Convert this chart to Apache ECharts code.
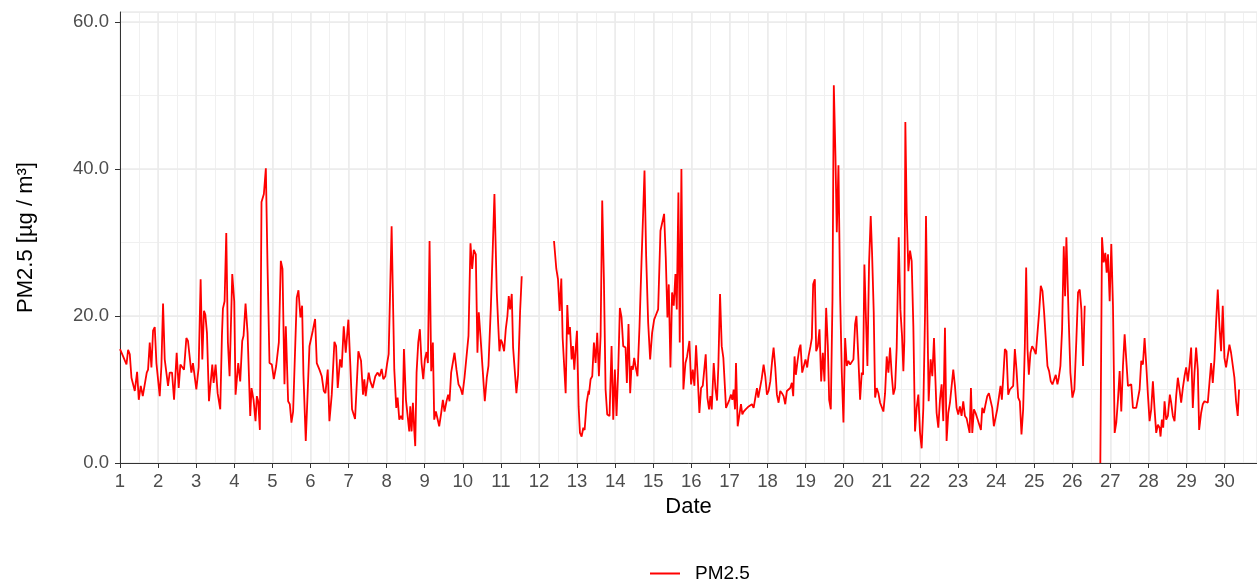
<!DOCTYPE html>
<html>
<head>
<meta charset="utf-8">
<script src="https://cdn.jsdelivr.net/npm/echarts@6/dist/echarts.min.js"></script>
<style>html,body{margin:0;padding:0;background:#fff}#c{width:1257px;height:580px}</style>
</head>
<body>
<div id="c"></div>
<script>
// time in days of month (fractional), null value = missing data
const times = [
1.000,1.082,1.170,1.213,1.257,1.301,1.344,1.388,1.449,1.493,1.545,1.598,1.650,1.702,1.737,1.781,1.825,1.868,1.912,1.956,
2.043,2.087,2.130,2.174,2.218,2.261,2.305,2.366,2.419,2.488,2.541,2.585,2.637,2.681,2.742,2.785,2.873,2.916,3.004,3.065,
3.117,3.161,3.205,3.240,3.283,3.336,
3.423,3.458,3.510,3.563,3.632,3.676,3.702,3.746,3.790,3.833,3.877,3.947,3.999,4.034,4.104,4.156,4.209,4.244,4.296,4.349,
4.419,4.453,4.506,4.558,4.593,4.628,4.672,4.715,4.777,4.829,4.873,4.925,4.986,5.039,5.100,5.170,5.222,5.266,5.318,5.353,
5.388,5.414,5.458,5.501,5.545,5.589,5.641,5.685,5.737,5.781,5.816,5.877,
5.974,6.061,6.122,6.166,6.236,6.297,6.350,6.393,6.454,6.498,6.559,6.629,6.673,6.716,6.777,6.821,6.874,6.926,6.996,7.048,
7.092,7.136,7.171,7.258,7.328,7.380,7.415,7.450,7.529,7.572,7.633,7.703,7.764,7.817,7.869,7.913,7.965,8.009,8.053,8.131,
8.201,8.253,8.288,
8.332,8.376,8.419,8.454,8.507,8.550,8.594,8.620,8.655,8.690,8.725,8.751,8.786,8.830,8.873,8.917,8.961,9.004,9.048,9.083,
9.127,9.170,9.214,9.249,9.293,9.336,9.380,9.432,9.476,9.520,9.572,9.616,9.651,9.694,9.782,9.834,9.887,9.939,9.991,10.044,
10.096,10.149,10.201,10.245,10.288,10.341,10.384,10.419,10.463,10.515,10.577,10.629,10.673,10.734,10.786,10.830,
10.892,10.927,10.962,10.997,11.032,11.084,11.128,11.171,11.206,11.241,11.285,11.320,11.363,11.407,11.451,11.503,11.547,
11.970,
12.394,12.455,12.499,12.543,12.586,12.621,12.700,12.743,12.778,12.813,12.857,12.892,12.927,12.962,12.997,13.040,13.075,13.119,13.163,13.198,
13.250,13.302,
13.311,13.355,13.398,13.442,13.486,13.529,13.573,13.617,13.660,13.704,13.748,13.791,13.852,13.905,13.949,13.992,14.036,14.080,14.123,14.167,
14.211,14.272,14.307,14.350,14.394,14.429,14.464,14.499,14.534,14.586,14.639,14.691,14.735,14.770,14.813,14.866,14.918,14.970,15.023,15.075,
15.128,15.189,15.232,15.285,15.328,15.372,15.407,15.451,15.494,15.538,15.582,15.617,15.660,15.695,15.739,15.791,
15.845,15.888,15.949,15.993,16.037,16.080,16.124,16.168,16.211,16.255,16.299,16.377,16.421,16.465,16.500,16.535,16.587,16.631,16.674,16.709,
16.753,16.797,16.840,16.910,16.954,16.998,17.041,17.076,17.111,17.146,17.172,17.216,17.260,17.303,17.338,17.373,17.425,17.504,17.548,17.591,
17.635,17.679,17.722,17.757,17.801,17.845,17.897,17.941,17.984,18.028,18.072,18.124,18.159,18.203,18.246,
18.290,18.334,18.377,18.421,18.465,18.508,18.596,18.639,18.674,18.709,18.744,18.788,18.831,18.866,18.910,18.954,18.997,19.041,19.076,19.128,
19.163,19.198,19.242,19.277,19.321,19.364,19.408,19.452,19.495,19.539,19.583,19.618,19.661,19.705,19.740,19.783,19.818,19.862,19.906,19.949,
19.993,20.037,20.080,20.124,20.168,20.211,20.255,20.299,20.334,20.386,20.430,20.473,20.508,20.543,20.587,20.622,20.666,20.709,20.744,20.788,
20.824,20.867,20.911,20.955,20.998,21.042,21.086,21.129,21.173,21.217,21.260,21.304,21.348,21.391,21.444,21.487,21.531,21.566,21.592,21.618,
21.653,21.697,21.741,21.784,21.828,21.872,21.915,21.959,22.003,22.046,22.090,22.134,22.160,22.195,22.230,22.282,22.326,22.370,22.404,22.439,
22.483,22.527,22.570,22.614,22.658,22.701,22.745,22.789,22.832,22.876,22.920,22.963,23.007,23.051,23.094,23.138,23.182,23.225,
23.270,23.305,23.340,23.375,23.418,23.462,23.506,23.549,23.602,23.637,23.680,23.724,23.768,23.811,23.855,23.899,23.942,23.986,24.030,24.073,
24.117,24.152,24.196,24.231,24.274,24.318,24.362,24.405,24.449,24.493,24.536,24.580,24.624,24.667,24.711,24.755,24.790,24.825,24.860,24.903,
24.947,24.991,25.043,25.087,25.130,25.174,25.218,25.261,25.305,25.349,25.392,25.436,25.480,25.523,25.567,25.611,25.646,25.689,25.733,25.777,
25.812,25.846,
25.907,25.951,26.004,26.056,26.108,26.152,26.196,26.239,26.283,26.327,
26.530,
26.737,26.781,26.825,26.868,26.903,26.938,26.982,27.025,27.069,27.113,27.156,27.200,27.244,27.287,27.331,27.375,27.418,27.462,27.506,27.549,
27.593,27.637,27.680,27.724,27.768,27.811,27.855,27.899,27.942,27.986,28.030,28.073,28.117,28.161,28.204,
28.248,28.292,28.318,28.353,28.388,28.423,28.466,28.510,28.562,28.597,28.641,28.685,28.728,28.772,28.816,28.859,28.903,28.947,28.990,29.034,
29.078,29.121,29.165,29.209,29.252,29.296,29.331,29.383,29.427,29.471,29.514,29.558,29.602,29.645,29.689,29.733,29.776,29.820,29.864,29.907,
29.951,29.995,30.038,30.082,30.126,30.169,30.213,30.257,30.300,30.344,30.379
];
const pm25 = [
15.5,14.5,13.4,15.4,14.8,11.6,11.8,9.8,12.4,8.6,10.5,9.1,8.9,12.3,12.7,16.4,13.0,18.0,18.5,13.6,
9.1,13.2,21.7,14.1,13.9,10.5,12.3,12.3,8.6,15.0,10.2,13.4,13.6,12.7,17.0,16.6,12.3,13.6,10.0,13.0,
25.0,14.1,20.7,20.2,17.7,8.4,
13.4,10.9,13.4,9.5,7.3,17.3,21.0,22.0,31.3,16.4,11.8,25.7,22.0,9.3,13.6,11.1,16.6,17.3,21.7,17.7,
6.4,10.2,8.6,5.7,9.1,8.4,4.5,35.5,36.6,40.1,26.8,13.6,13.4,11.4,13.2,16.4,27.5,26.4,10.7,18.6,
18.6,8.4,8.0,5.5,7.0,7.0,22.5,23.5,19.8,21.4,12.0,3.0,
15.9,18.0,19.6,13.6,12.7,11.8,9.8,9.5,12.7,5.7,9.3,16.5,15.9,10.2,14.1,13.0,18.6,15.0,19.5,13.2,
7.3,7.5,6.0,15.2,13.9,9.3,11.4,9.1,12.3,11.1,10.2,11.8,12.3,11.8,12.8,11.4,11.8,13.4,14.8,32.2,
12.7,7.5,8.9,
5.9,6.4,5.9,15.5,8.6,8.4,4.3,7.7,4.3,8.2,4.5,2.3,12.3,16.4,18.2,13.6,11.4,14.1,15.1,13.6,
30.2,12.5,16.4,5.9,7.0,6.8,5.0,6.8,8.6,7.0,8.4,9.3,8.4,12.3,15.0,12.7,10.7,10.2,9.3,11.6,
11.8,17.3,29.9,26.4,29.0,28.4,15.0,20.5,17.3,13.2,8.4,11.6,13.2,20.9,29.1,36.6,
23.2,19.1,15.2,16.8,16.4,15.2,18.2,20.0,22.7,20.9,23.0,15.7,15.9,9.5,12.0,20.5,25.4,
null,
30.2,26.4,25.0,20.7,25.1,17.0,9.5,21.5,17.5,18.5,14.1,15.9,12.7,15.5,18.0,7.7,4.1,3.6,4.8,4.5,
8.2,9.8,
9.3,11.4,11.8,16.4,13.6,17.7,11.8,17.3,35.7,25.0,10.0,6.6,6.4,15.9,5.9,12.7,6.4,12.7,21.1,19.8,
15.9,15.7,10.9,18.9,9.5,13.2,12.7,14.3,13.2,11.8,18.6,27.3,34.1,39.8,28.2,19.1,14.1,17.7,19.5,20.2,
20.9,31.6,31.7,33.9,28.0,19.8,24.3,13.0,23.2,21.4,25.7,20.9,36.8,16.4,40.0,10.0,
13.6,14.5,16.6,10.7,12.7,10.5,16.0,11.6,6.8,10.2,10.5,14.8,8.9,7.3,9.1,7.3,13.6,10.2,8.5,13.2,
23.0,15.9,14.3,7.5,7.4,8.6,9.3,8.6,10.0,7.3,13.6,5.0,4.8,8.0,6.6,7.0,7.3,7.7,7.5,8.0,
7.5,7.3,10.2,8.9,9.1,11.4,13.4,11.8,9.3,9.8,11.1,14.1,15.7,13.0,9.3,
8.2,9.8,9.5,9.1,8.0,9.8,10.2,10.9,9.1,14.5,12.0,13.9,15.5,16.1,12.3,13.2,14.1,13.0,14.5,15.9,
17.0,24.3,25.0,15.2,15.9,18.2,11.1,15.0,11.1,21.1,15.9,8.6,7.3,22.3,51.4,41.8,31.4,40.5,22.7,12.3,
5.5,17.0,13.2,13.9,13.4,13.6,14.1,18.9,20.0,14.1,8.6,12.3,12.0,27.0,19.1,13.2,27.3,33.6,28.6,20.5,
8.9,10.2,9.5,8.2,8.2,7.0,9.5,14.5,12.3,15.7,12.0,9.3,10.2,15.7,30.7,20.9,17.3,12.5,16.6,46.4,
34.1,26.1,28.9,27.5,18.6,4.3,7.5,9.3,4.1,2.0,7.5,20.0,33.6,20.5,8.4,14.1,11.8,17.0,11.8,6.8,
4.8,8.6,10.7,5.7,18.4,3.0,6.8,8.2,8.4,12.7,10.5,7.5,6.6,7.7,6.4,8.4,6.4,6.1,
6.1,4.1,10.2,4.1,7.3,6.8,6.1,5.9,4.5,7.5,6.8,8.0,9.1,9.5,9.3,7.5,5.0,4.8,7.3,7.5,
10.5,8.6,12.3,15.5,15.2,9.3,10.0,9.8,10.5,15.5,12.7,8.9,8.4,3.9,7.3,15.9,26.6,15.5,12.0,15.0,
15.9,15.5,14.8,17.7,20.5,24.1,23.4,20.5,16.8,13.2,12.5,11.1,10.7,10.9,12.0,10.7,11.6,13.2,18.2,29.5,
22.7,30.7,
19.5,12.3,8.9,10.0,16.8,23.2,23.6,20.9,13.2,21.4,
null,
0.0,30.7,27.3,28.6,25.9,28.4,22.0,29.8,21.4,4.1,5.5,8.6,12.5,7.0,13.2,17.5,17.5,10.5,10.7,10.7,
7.5,7.7,7.5,7.5,10.0,13.9,13.4,17.0,13.4,9.3,5.7,7.3,11.1,7.3,4.1,
5.2,4.8,3.6,5.9,4.8,8.4,5.9,6.4,9.3,8.2,6.4,5.7,9.1,11.6,10.0,8.2,10.2,11.8,13.0,11.1,
13.2,15.7,7.5,12.3,15.7,12.7,4.5,6.8,8.0,8.4,8.4,8.2,8.4,13.6,10.9,14.1,19.1,23.6,18.6,15.2,
21.4,14.3,13.0,13.2,16.1,15.0,14.8,11.6,8.4,6.4,10.0
];
const yTicks = [0, 20, 40, 60];
const seriesName = 'PM2.5';

const FONT = 'Liberation Sans, Arial, sans-serif';
const chart = echarts.init(document.getElementById('c'), null, {renderer: 'canvas'});
const data = times.map((t, i) => [t, pm25[i]]);
const X_MIN = 1, X_MAX = 30.85, Y_MIN = 0, Y_MAX = 61.36;

chart.setOption({
  backgroundColor: '#ffffff',
  animation: false,
  grid: {left: 120, right: -2, top: 12, bottom: 117, containLabel: false},
  legend: {
    data: [{name: seriesName, icon: 'rect', itemStyle: {color: '#ff0000', borderWidth: 0}}],
    left: 650, top: 564, itemWidth: 30, itemHeight: 2, padding: 0,
    textStyle: {fontFamily: FONT, fontSize: 19, color: '#000', padding: [0, 0, 0, 10]}
  },
  xAxis: [{
    type: 'value', min: X_MIN, max: X_MAX, interval: 1, z: 3,
    name: 'Date', nameLocation: 'middle', nameGap: 31,
    nameTextStyle: {fontFamily: FONT, fontSize: 22, color: '#000'},
    axisLine: {show: true, onZero: false, lineStyle: {color: '#333333', width: 1}},
    axisTick: {show: true, length: 5, lineStyle: {color: '#333333', width: 1}},
    axisLabel: {show: true, showMaxLabel: false, margin: 9, fontFamily: FONT, fontSize: 18.5, color: '#4d4d4d',
      formatter: v => String(Math.round(v))},
    splitLine: {show: true, lineStyle: {color: '#ebebeb', width: 1.5}}
  }, {
    type: 'value', min: X_MIN, max: X_MAX, interval: 0.5, position: 'top', z: 1,
    axisLine: {show: true, lineStyle: {color: '#333333', width: 1}},
    axisTick: {show: false}, axisLabel: {show: false},
    splitLine: {show: true, lineStyle: {color: '#f0f0f0', width: 1}}
  }],
  yAxis: [{
    type: 'value', min: Y_MIN, max: Y_MAX, interval: 20, z: 3,
    name: 'PM2.5 [µg / m³]', nameLocation: 'middle', nameGap: 83, nameRotate: 90,
    nameTextStyle: {fontFamily: FONT, fontSize: 22, color: '#000'},
    axisLine: {show: true, onZero: false, lineStyle: {color: '#333333', width: 1}},
    axisTick: {show: true, length: 5, lineStyle: {color: '#333333', width: 1}},
    axisLabel: {show: true, showMaxLabel: false, margin: 11, fontFamily: FONT, fontSize: 18.5, color: '#4d4d4d',
      formatter: v => (yTicks.indexOf(v) >= 0 ? v.toFixed(1) : '')},
    splitLine: {show: true, lineStyle: {color: '#ebebeb', width: 1.5}}
  }, {
    type: 'value', min: Y_MIN, max: Y_MAX, interval: 10, position: 'right', z: 1,
    axisLine: {show: false}, axisTick: {show: false}, axisLabel: {show: false},
    splitLine: {show: true, lineStyle: {color: '#f0f0f0', width: 1}}
  }],
  series: [{
    name: seriesName, type: 'line', xAxisIndex: 0, yAxisIndex: 0,
    data: data, symbol: 'none', connectNulls: false, z: 5,
    lineStyle: {color: '#ff0000', width: 1.8}, itemStyle: {color: '#ff0000'}
  }]
});
</script>
</body>
</html>
